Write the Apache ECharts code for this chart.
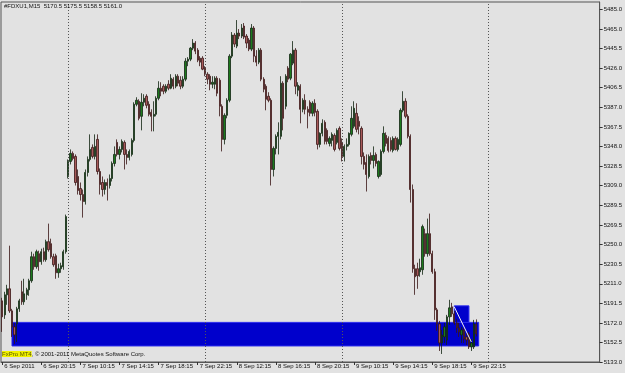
<!DOCTYPE html>
<html><head><meta charset="utf-8">
<script src="https://cdn.jsdelivr.net/npm/echarts@6/dist/echarts.min.js"></script>
<style>html,body{margin:0;padding:0;background:#e2e2e2;}#c{width:625px;height:373px;}</style>
</head><body><div id="c"></div>
<script>
// ---- data ----
const symbolTitle = '#FDXU1,M15  5170.5 5175.5 5158.5 5161.0';
const copyrightBrand = 'FxPro MT4';
const copyrightRest = ', \u00a9 2001-2011 MetaQuotes Software Corp.';
const slotCount = 245;             // bar slots visible on the chart
const tickEvery = 16;              // a time label every 16 bars
const tickLabels = ['6 Sep 2011','6 Sep 20:15','7 Sep 10:15','7 Sep 14:15','7 Sep 18:15','7 Sep 22:15','8 Sep 12:15','8 Sep 16:15','8 Sep 20:15','9 Sep 10:15','9 Sep 14:15','9 Sep 18:15','9 Sep 22:15'];
const priceTicks = [5133.0,5152.5,5172.0,5191.5,5211.0,5230.5,5250.0,5269.5,5289.5,5309.0,5328.5,5348.0,5367.5,5387.0,5406.5,5426.0,5445.5,5465.0,5485.0];
const priceMin = 5133, priceMax = 5492;
const daySeparators = [27, 83, 139, 199];
const lastPrice = 5161.0;
const zoneMain = {from: 4, to: 195, top: 5172.5, bottom: 5149};
const zoneSmall = {from: 185, to: 191, top: 5189, bottom: 5172.5};
const trendLine = {from: 185, fromPrice: 5188, to: 192, toPrice: 5153};

const open = [
5194,5180,5200,5206,5184,5168,5171,5186,5203,5193,5200,5205,5214,5238,5228,5241,5233,5243,5235,5253,5251,5238,5239,5222,5226,5228,5243,
5318,5333,5341,5338,5318,5306,5300,5293,5322,5335,5347,5338,5355,5323,5312,5305,5312,5309,5316,5331,5352,5340,5345,5352,5340,5337,5340,5354,5390,5393,5378,5392,5398,5390,5382,5378,5380,5396,5406,5408,5403,5410,5406,5415,5408,5418,5414,5408,5415,5433,5435,5446,5451,5444,5436,5436,
5426,5420,5418,5410,5410,5416,5414,5388,5355,5379,5394,5438,5459,5448,5461,5458,5468,5458,5454,5445,5466,5438,5432,5444,5415,5408,5398,5394,5325,5346,5358,5358,5411,5388,5426,5416,5431,5444,5404,5408,5385,5394,5385,5392,5381,5391,5383,5350,5361,5372,5364,5351,5354,5359,5352,5366,
5352,5338,5348,5350,5360,5368,5381,5373,5366,5338,5332,5318,5339,5334,5340,5318,5320,5343,5359,5356,5354,5344,5356,5345,5350,5384,5393,5378,5358,5305,5226,5226,5223,5225,5261,5241,5261,5241,5223,5185,5171,5152,5158,5155,5178,5188,5181,5172,5167,5160,5165,5158,5161,5148,5148,5170.5];
const high = [
5197,5203,5210,5249,5186,5172,5188,5196,5214,5216,5207,5216,5243,5241,5245,5244,5246,5247,5255,5271,5256,5241,5241,5231,5232,5245,5280,
5335,5345,5343,5340,5325,5312,5305,5325,5338,5360,5350,5360,5360,5326,5318,5315,5316,5320,5333,5348,5355,5348,5355,5354,5345,5345,5356,5392,5397,5395,5401,5400,5400,5393,5385,5393,5398,5413,5412,5410,5410,5414,5420,5417,5420,5420,5418,5418,5436,5437,5447,5455,5453,5446,5438,5438,
5428,5422,5420,5418,5418,5418,5416,5390,5381,5396,5440,5462,5461,5474,5465,5470,5471,5460,5456,5470,5468,5444,5446,5446,5417,5410,5402,5396,5348,5360,5372,5418,5413,5420,5428,5441,5453,5446,5412,5410,5396,5400,5388,5394,5393,5395,5385,5362,5375,5374,5366,5358,5362,5361,5366,5368,
5356,5350,5356,5362,5388,5393,5391,5378,5368,5342,5340,5340,5342,5348,5342,5334,5345,5368,5362,5358,5357,5358,5358,5357,5386,5403,5396,5380,5360,5310,5230,5232,5236,5270,5266,5276,5281,5244,5226,5187,5174,5165,5172,5180,5195,5192,5184,5176,5172,5168,5167,5162,5163,5156,5175,5175.5];
const low = [
5163,5176,5190,5182,5158,5151,5153,5183,5190,5190,5195,5199,5212,5225,5226,5224,5230,5233,5233,5243,5236,5228,5216,5217,5222,5225,5241,
5316,5330,5334,5309,5300,5294,5277,5290,5318,5333,5336,5335,5320,5300,5298,5300,5294,5306,5313,5328,5338,5335,5342,5325,5330,5334,5338,5352,5388,5374,5364,5388,5386,5378,5363,5363,5378,5394,5398,5400,5401,5404,5405,5405,5406,5408,5405,5406,5413,5428,5433,5444,5440,5432,5428,5424,
5418,5410,5404,5406,5405,5398,5378,5343,5350,5376,5392,5436,5447,5446,5455,5456,5455,5446,5443,5443,5432,5428,5430,5413,5402,5384,5392,5309,5318,5340,5340,5355,5364,5385,5412,5414,5429,5400,5398,5371,5382,5380,5366,5378,5378,5378,5345,5347,5358,5350,5350,5348,5348,5343,5350,5344,
5333,5333,5344,5348,5358,5366,5362,5360,5330,5325,5303,5316,5330,5326,5328,5316,5318,5341,5348,5342,5343,5342,5344,5343,5348,5382,5376,5356,5292,5222,5200,5206,5218,5220,5238,5238,5239,5221,5175,5164,5144,5141,5152,5150,5170,5178,5170,5162,5158,5152,5152,5150,5146,5144,5146,5158.5];
const close = [
5178,5200,5206,5184,5168,5160,5186,5194,5193,5201,5205,5214,5238,5228,5243,5233,5243,5235,5253,5245,5238,5230,5222,5226,5229,5243,5278,
5333,5341,5336,5312,5304,5300,5293,5322,5335,5345,5338,5348,5323,5310,5305,5312,5309,5316,5331,5340,5340,5345,5353,5340,5337,5343,5354,5390,5394,5376,5392,5396,5389,5380,5378,5380,5396,5406,5403,5403,5408,5406,5416,5408,5418,5411,5408,5415,5433,5435,5446,5451,5443,5434,5432,5425,
5420,5415,5410,5412,5416,5401,5388,5355,5379,5394,5438,5459,5450,5461,5458,5466,5457,5451,5445,5466,5438,5432,5444,5415,5405,5395,5394,5325,5346,5358,5362,5411,5376,5418,5415,5440,5444,5408,5409,5385,5394,5385,5382,5381,5391,5382,5350,5361,5371,5353,5353,5356,5360,5345,5364,5346,
5338,5348,5350,5361,5376,5386,5365,5368,5338,5330,5320,5338,5334,5339,5331,5333,5343,5361,5351,5344,5345,5356,5345,5355,5384,5393,5378,5358,5305,5226,5218,5219,5227,5268,5241,5261,5241,5223,5185,5171,5152,5160,5168,5178,5187,5181,5172,5167,5163,5165,5156,5155,5148,5152,5171,5161.0];

// ---- chart ----
const FONT = '"Liberation Sans", Arial, sans-serif';
const categories = Array.from({length: slotCount}, (_, i) => String(i));
const candles = open.map((o, i) => [o, close[i], low[i], high[i]]);
const showTick = (i) => i % tickEvery === 0 && i < open.length;

const chart = echarts.init(document.getElementById('c'), null, {renderer: 'canvas'});
chart.setOption({
  backgroundColor: '#e2e2e2',
  animation: false,
  title: [
    {text: symbolTitle, left: 4, top: 3, padding: 0,
     textStyle: {fontSize: 6, fontWeight: 'normal', color: '#111', fontFamily: FONT}},
    {text: '{b|' + copyrightBrand + '}' + copyrightRest, left: 2, top: 351, padding: 0,
     textStyle: {fontSize: 6, fontWeight: 'normal', color: '#111', fontFamily: FONT,
       rich: {b: {fontSize: 6, color: '#555500', backgroundColor: '#f2f200', fontFamily: FONT}}}}
  ],
  grid: {left: 1, right: 23, top: 2, bottom: 11, show: true, borderColor: '#555', borderWidth: 1, backgroundColor: 'transparent'},
  xAxis: {
    type: 'category', data: categories, boundaryGap: true,
    axisLine: {show: true, lineStyle: {color: '#555', width: 1}},
    axisTick: {show: true, interval: showTick, alignWithLabel: true, length: 3, lineStyle: {color: '#333'}},
    axisLabel: {interval: showTick, formatter: (v, i) => tickLabels[Math.round(Number(v) / tickEvery)],
      align: 'left', margin: 1, padding: [0, 0, 0, 2], fontSize: 6, color: '#111', fontFamily: FONT},
    splitLine: {show: false}
  },
  yAxis: {
    type: 'value', position: 'right', min: priceMin, max: priceMax, scale: true,
    axisLine: {show: true, lineStyle: {color: '#555', width: 1}},
    axisTick: {show: true, customValues: priceTicks, length: 3, lineStyle: {color: '#333'}},
    axisLabel: {customValues: priceTicks, formatter: (v) => Number(v).toFixed(1), margin: 4,
      fontSize: 6, color: '#111', fontFamily: FONT},
    splitLine: {show: false}
  },
  series: [{
    type: 'candlestick',
    data: candles,
    barWidth: 1.8,
    itemStyle: {color: '#1c7a1c', color0: '#a85a5a', borderColor: '#122412', borderColor0: '#3a1515', borderWidth: 0.8},
    markArea: {
      silent: true,
      itemStyle: {color: '#0000cc', borderColor: '#2a2aee', borderWidth: 1},
      data: [
        [{xAxis: zoneMain.from, yAxis: zoneMain.top}, {xAxis: zoneMain.to, yAxis: zoneMain.bottom}],
        [{xAxis: zoneSmall.from, yAxis: zoneSmall.top}, {xAxis: zoneSmall.to, yAxis: zoneSmall.bottom}]
      ]
    },
    markLine: {
      silent: true, symbol: 'none', animation: false,
      data: [
        ...daySeparators.map(s => ({xAxis: s, lineStyle: {color: '#555', type: [1, 2], width: 1}, label: {show: false}})),
        [{coord: [trendLine.from, trendLine.fromPrice], lineStyle: {color: '#f0f0f0', width: 1, type: 'solid'}, label: {show: false}},
         {coord: [trendLine.to, trendLine.toPrice]}],
        {yAxis: lastPrice, lineStyle: {opacity: 0}, label: {show: true, position: 'end', distance: 1,
          formatter: lastPrice.toFixed(1), backgroundColor: '#000', color: '#fff', padding: [1, 2, 1, 2],
          fontSize: 6, fontFamily: FONT}}
      ]
    }
  }]
});
</script></body></html>
